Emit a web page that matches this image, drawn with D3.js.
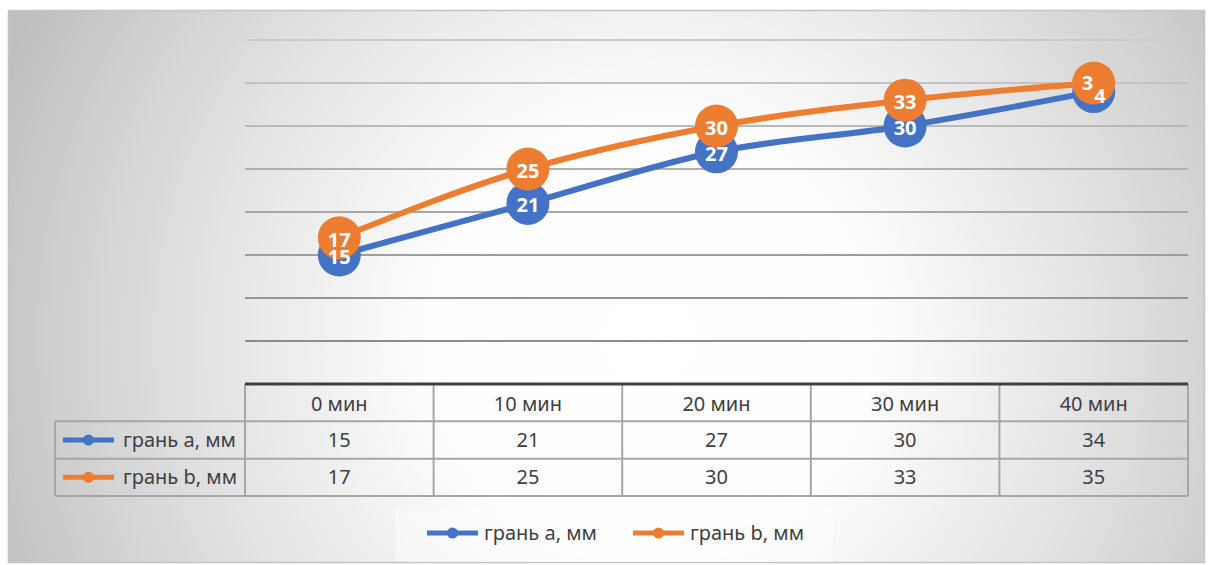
<!DOCTYPE html>
<html lang="ru">
<head>
    <meta charset="UTF-8">
    <title>Грань a, b</title>
    <script src="https://d3js.org/d3.v7.min.js"></script>
    <style>
        body { margin: 0; background: #fff; font-family: "Noto Sans", "Open Sans", sans-serif; }
        svg text { font-family: "Noto Sans", "Open Sans", sans-serif; }
    </style>
</head>
<body>
<div id="chart"></div>
<script>
    // data
    const categories = ["0 мин", "10 мин", "20 мин", "30 мин", "40 мин"];
    const seriesNames = ["грань a, мм", "грань b, мм"];
    const valuesA = [15, 21, 27, 30, 34];
    const valuesB = [17, 25, 30, 33, 35];
    const colors = ["#4472C4", "#ED7D31"];

    const W = 1208, H = 565;
    const plot = {left: 245, right: 1188, top: 40, bottom: 384};

    const svg = d3.select("#chart").append("svg")
        .attr("width", W).attr("height", H);

    // background gradient (light in the middle, grey at the sides)
    const defs = svg.append("defs");
    const grad = defs.append("radialGradient").attr("id", "bg")
        .attr("gradientUnits", "userSpaceOnUse")
        .attr("cx", 650).attr("cy", 340).attr("r", 700);
    [[0, "#ffffff"], [0.32, "#fdfdfd"], [0.6, "#e6e6e6"], [0.85, "#cfcfcf"], [1, "#bfbfbf"]]
        .forEach(s => grad.append("stop").attr("offset", s[0]).attr("stop-color", s[1]));

    svg.append("rect")
        .attr("x", 8.5).attr("y", 10.5).attr("width", 1196).attr("height", 552)
        .attr("fill", "url(#bg)")
        .attr("stroke", "#c4c4c4").attr("stroke-width", 1.5);

    // scales
    const x = d3.scaleBand().domain(categories).range([plot.left, plot.right]);
    const cx = d => x(d) + x.bandwidth() / 2;
    const y = d3.scaleLinear().domain([0, 40]).range([plot.bottom, plot.top]);

    // gridlines (no tick labels)
    const gridShade = d3.scaleLinear().domain([40, 5]).range(["#cbcbcb", "#8c8c8c"]);
    svg.append("g").selectAll("line")
        .data(y.ticks(8).filter(t => t > 0))
        .join("line")
        .attr("x1", plot.left).attr("x2", plot.right)
        .attr("y1", d => y(d)).attr("y2", d => y(d))
        .attr("stroke", d => gridShade(d))
        .attr("stroke-width", 2);

    // data table
    const rows = d3.scaleBand().domain(["header", ...seriesNames]).range([plot.bottom, 496]);
    const table = svg.append("g");
    const border = "#a6a6a6";
    const tableLeft = 55;
    const fs = 20;

    // horizontal borders
    [...seriesNames.map(n => rows(n)), 496].forEach(yy => {
        table.append("line")
            .attr("x1", tableLeft).attr("x2", plot.right)
            .attr("y1", yy).attr("y2", yy)
            .attr("stroke", border).attr("stroke-width", 2);
    });
    // vertical borders
    table.append("line")
        .attr("x1", tableLeft).attr("x2", tableLeft)
        .attr("y1", rows(seriesNames[0])).attr("y2", 496)
        .attr("stroke", border).attr("stroke-width", 2);
    [...categories.map(c => x(c)), plot.right].forEach(xx => {
        table.append("line")
            .attr("x1", xx).attr("x2", xx)
            .attr("y1", plot.bottom).attr("y2", 496)
            .attr("stroke", border).attr("stroke-width", 2);
    });
    // category axis line
    table.append("line")
        .attr("x1", plot.left).attr("x2", plot.right)
        .attr("y1", y(0)).attr("y2", y(0))
        .attr("stroke", "#404040").attr("stroke-width", 3);

    // header labels
    table.selectAll("text.cat")
        .data(categories)
        .join("text")
        .attr("class", "cat")
        .attr("x", d => cx(d))
        .attr("y", rows("header") + rows.bandwidth() / 2 + 1)
        .attr("dy", "0.35em")
        .attr("text-anchor", "middle")
        .attr("font-size", fs)
        .attr("fill", "#404040")
        .text(d => d);

    // series rows
    const allValues = [valuesA, valuesB];
    seriesNames.forEach((name, i) => {
        const rc = rows(name) + rows.bandwidth() / 2;
        table.append("line")
            .attr("x1", 63).attr("x2", 114)
            .attr("y1", rc).attr("y2", rc)
            .attr("stroke", colors[i]).attr("stroke-width", 5);
        table.append("circle")
            .attr("cx", 88.5).attr("cy", rc).attr("r", 5.5)
            .attr("fill", colors[i]);
        table.append("text")
            .attr("x", 123).attr("y", rc).attr("dy", "0.35em")
            .attr("font-size", fs).attr("fill", "#404040")
            .text(name);
        table.selectAll("text.v" + i)
            .data(allValues[i])
            .join("text")
            .attr("class", "v" + i)
            .attr("x", (d, j) => cx(categories[j]))
            .attr("y", rc).attr("dy", "0.35em")
            .attr("text-anchor", "middle")
            .attr("font-size", fs).attr("fill", "#404040")
            .text(d => d);
    });

    // series: lines and markers
    const line = d3.line()
        .x((d, j) => cx(categories[j]))
        .y(d => y(d))
        .curve(d3.curveMonotoneX);

    allValues.forEach((vals, i) => {
        const g = svg.append("g");
        g.append("path")
            .datum(vals)
            .attr("d", line)
            .attr("fill", "none")
            .attr("stroke", colors[i])
            .attr("stroke-width", 6)
            .attr("stroke-linecap", "round");
        g.selectAll("circle")
            .data(vals)
            .join("circle")
            .attr("cx", (d, j) => cx(categories[j]))
            .attr("cy", d => y(d))
            .attr("r", 21.5)
            .attr("fill", colors[i]);
    });

    // data labels, drawn above all markers
    const lastIdx = categories.length - 1;
    const labelLayer = svg.append("g");
    allValues.forEach((vals, i) => {
        const shown = vals.map((d, j) => ({d, j})).filter(o => o.j !== lastIdx);
        labelLayer.append("g").selectAll("text")
            .data(shown)
            .join("text")
            .attr("x", o => cx(categories[o.j]))
            .attr("y", o => y(o.d) + 2)
            .attr("dy", "0.35em")
            .attr("text-anchor", "middle")
            .attr("font-size", 20)
            .attr("font-weight", "bold")
            .attr("fill", "#fff")
            .text(o => o.d);
    });

    // overlapping labels at the last point collapse into one
    const lastLbl = labelLayer.append("text")
        .attr("x", cx(categories[lastIdx]))
        .attr("y", y(valuesA[lastIdx]) - 4)
        .attr("text-anchor", "middle")
        .attr("font-size", 20)
        .attr("font-weight", "bold")
        .attr("fill", "#fff");
    const digits = String(valuesA[lastIdx]).split("");
    lastLbl.append("tspan").attr("dy", "0.1em").text(digits[0]);
    lastLbl.append("tspan").attr("dx", "0.05em").attr("dy", "0.65em").text(digits[1]);

    // legend
    const legend = svg.append("g");
    legend.append("rect")
        .attr("x", 395).attr("y", 510).attr("width", 438).attr("height", 52)
        .attr("fill", "#ffffff").attr("opacity", 0.4);
    const legendX = [427, 633];
    seriesNames.forEach((name, i) => {
        const lx = legendX[i], ly = 533;
        legend.append("line")
            .attr("x1", lx).attr("x2", lx + 51)
            .attr("y1", ly).attr("y2", ly)
            .attr("stroke", colors[i]).attr("stroke-width", 5);
        legend.append("circle")
            .attr("cx", lx + 25.5).attr("cy", ly).attr("r", 5.5)
            .attr("fill", colors[i]);
        legend.append("text")
            .attr("x", lx + 57).attr("y", ly).attr("dy", "0.35em")
            .attr("font-size", fs).attr("fill", "#404040")
            .text(name);
    });
</script>
</body>
</html>
